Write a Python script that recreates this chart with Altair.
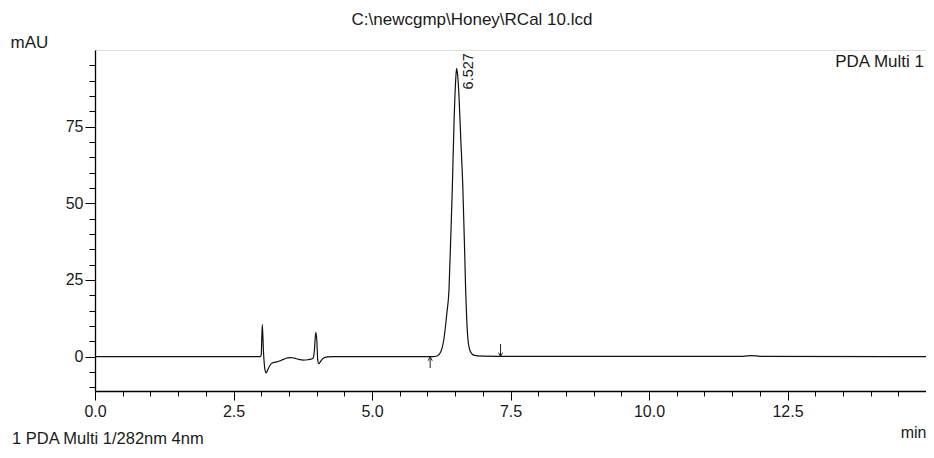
import altair as alt
import pandas as pd

# ---- data ----
times = [0.0, 2.98, 3.00, 3.02, 3.04, 3.07, 3.09, 3.12, 3.16, 3.20, 3.26, 3.32,
         3.40, 3.48, 3.54, 3.60, 3.68, 3.76, 3.84, 3.90, 3.94, 3.96, 3.985,
         4.005, 4.02, 4.04, 4.07, 4.12, 4.20, 4.30, 6.10, 6.18, 6.24, 6.30,
         6.35, 6.39, 6.42, 6.45, 6.48, 6.51, 6.527, 6.545, 6.57, 6.60, 6.64,
         6.67, 6.69, 6.71, 6.73, 6.76, 6.80, 6.85, 7.00, 7.50, 11.70, 11.86,
         12.00, 15.0]
mau = [0.0, 0.0, 0.5, 10.5, 2.0, -4.5, -5.3, -4.2, -2.8, -2.1, -1.8, -1.5,
       -0.9, -0.4, -0.3, -0.5, -0.9, -1.1, -1.0, -0.8, -0.4, 2.0, 7.9,
       5.0, -1.0, -2.3, -1.6, -0.5, -0.1, 0.0, 0.0, 0.3, 1.5, 6.0,
       14.0, 22.0, 38.0, 55.0, 76.0, 90.0, 94.0, 92.0, 85.0, 72.0, 55.0,
       36.0, 22.0, 12.0, 6.0, 2.5, 1.0, 0.4, 0.2, 0.1, 0.1, 0.35,
       0.1, 0.0]

peak_times = [6.527]
peak_heights = [94.0]
peak_labels = ["6.527"]

arrow_times = [6.05, 7.32]
arrow_tails = [-3.7, 4.1]
arrow_tips = [0.0, 0.0]
arrow_kind = ["start", "end"]

x_ticks = [0.0, 0.5, 1.0, 1.5, 2.0, 2.5, 3.0, 3.5, 4.0, 4.5, 5.0, 5.5, 6.0,
           6.5, 7.0, 7.5, 8.0, 8.5, 9.0, 9.5, 10.0, 10.5, 11.0, 11.5, 12.0,
           12.5, 13.0, 13.5, 14.0, 14.5, 15.0]
y_ticks = [-10, -5, 0, 5, 10, 15, 20, 25, 30, 35, 40, 45, 50, 55, 60, 65,
           70, 75, 80, 85, 90, 95]

title_text = r"C:\newcgmp\Honey\RCal 10.lcd"
channel_text = "PDA Multi 1"
footnote_text = "1  PDA Multi 1/282nm 4nm"

FONT = "Liberation Sans"
INK = "#1a1a1a"
W, H = 831, 341

trace = pd.DataFrame({"t": times, "mAU": mau})
peaks = pd.DataFrame({"t": peak_times, "h": peak_heights, "lab": peak_labels})
arrows = pd.DataFrame({"t": arrow_times, "tail": arrow_tails, "tip": arrow_tips,
                       "kind": arrow_kind})

xscale = alt.Scale(domain=[0, 15], nice=False, zero=False)
yscale = alt.Scale(domain=[-11.2, 100], nice=False, zero=False)

xaxis = alt.Axis(
    values=x_ticks, tickCount=200,
    labelExpr="(datum.value % 2.5 === 0 && datum.value < 15) ? format(datum.value, '.1f') : ''",
    tickSize={"condition": {"test": "datum.value % 2.5 === 0", "value": 9}, "value": 5},
    labelOverlap=False, labelBound=False, labelFlush=False,
    labelPadding=3, labelFont=FONT, labelFontSize=16, labelColor=INK,
    grid=False, domainColor="black", domainWidth=1.3, tickColor="black",
    title="min", titleX=W, titleY=46, titleAlign="right",
    titleBaseline="alphabetic", titleFont=FONT, titleFontSize=16,
    titleFontWeight="normal", titleColor=INK,
)
yaxis = alt.Axis(
    values=y_ticks, tickCount=200,
    labelExpr="(datum.value % 25 === 0 && datum.value >= 0) ? datum.value : ''",
    tickSize={"condition": {"test": "datum.value % 25 === 0", "value": 10}, "value": 6},
    labelOverlap=False, labelBound=False, labelFlush=False,
    labelPadding=2, labelFont=FONT, labelFontSize=16, labelColor=INK,
    grid=False, domainColor="black", domainWidth=1.3, tickColor="black",
    title="mAU", titleAngle=0, titleX=-85, titleY=-3, titleAlign="left",
    titleBaseline="alphabetic", titleFont=FONT, titleFontSize=17,
    titleFontWeight="normal", titleColor=INK,
)

line = alt.Chart(trace).mark_line(color="#111111", strokeWidth=1.2,
                                  interpolate="monotone").encode(
    x=alt.X("t:Q", scale=xscale, axis=xaxis),
    y=alt.Y("mAU:Q", scale=yscale, axis=yaxis),
)

peak_label = alt.Chart(peaks).mark_text(
    angle=270, align="left", baseline="middle", dx=-21, dy=12,
    font=FONT, fontSize=14.5, color=INK,
).encode(x=alt.X("t:Q", scale=xscale), y=alt.Y("h:Q", scale=yscale), text="lab:N")

arrow_shaft = alt.Chart(arrows).mark_rule(color="#222222", strokeWidth=1).encode(
    x=alt.X("t:Q", scale=xscale), y=alt.Y("tail:Q", scale=yscale), y2="tip:Q")

arrow_head = alt.Chart(arrows).mark_point(
    filled=False, color="#222222", strokeWidth=1, size=16, opacity=1,
).encode(
    x=alt.X("t:Q", scale=xscale), y=alt.Y("tip:Q", scale=yscale),
    shape=alt.condition(alt.datum.kind == "start",
                        alt.value("M-1,2L0,0L1,2"), alt.value("M-1,-2L0,0L1,-2")),
)

title_mark = alt.Chart(pd.DataFrame({"s": [title_text]})).mark_text(
    align="center", baseline="alphabetic", font=FONT, fontSize=17, color=INK,
).encode(text="s:N", x=alt.value(377), y=alt.value(-25))

channel_mark = alt.Chart(pd.DataFrame({"s": [channel_text]})).mark_text(
    align="right", baseline="alphabetic", font=FONT, fontSize=17, color=INK,
).encode(text="s:N", x=alt.value(W - 2), y=alt.value(17))

foot_mark = alt.Chart(pd.DataFrame({"s": [footnote_text]})).mark_text(
    align="left", baseline="alphabetic", font=FONT, fontSize=16.5, color=INK,
).encode(text="s:N", x=alt.value(-83), y=alt.value(394))

chart = alt.layer(line, arrow_shaft, arrow_head, peak_label, title_mark,
                  channel_mark, foot_mark).properties(
    width=W, height=H,
    autosize=alt.AutoSizeParams(type="none"),
    padding={"left": 87, "top": 42, "right": 0, "bottom": 59},
).configure_view(stroke="#7a7a7a", strokeWidth=1.6).configure(background="white")

chart.save("out.html", embed_options={"renderer": "svg", "actions": False})
